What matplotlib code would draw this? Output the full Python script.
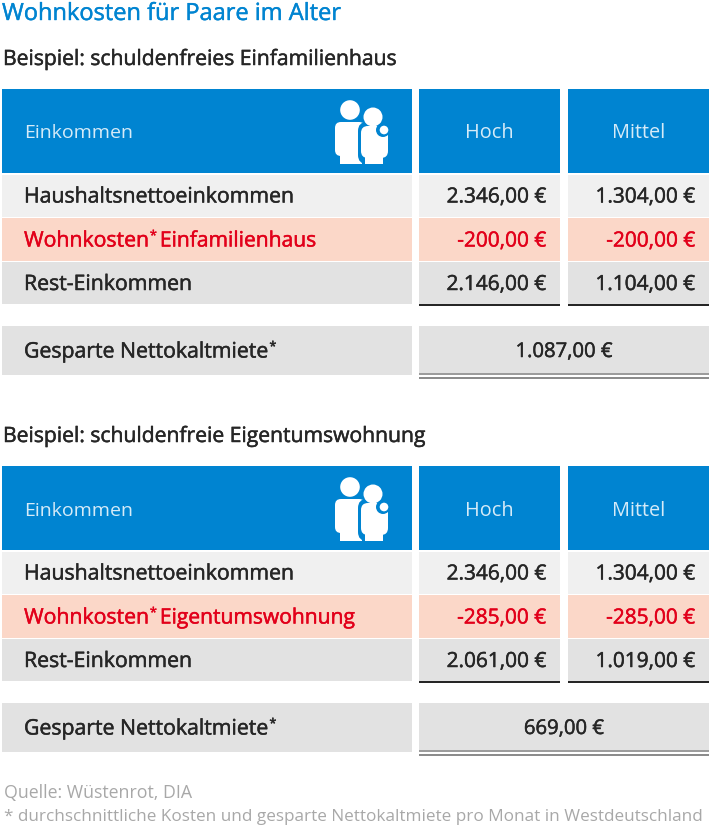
import matplotlib
matplotlib.use("Agg")
import matplotlib.pyplot as plt
from matplotlib.patches import Rectangle, Circle, FancyBboxPatch
from matplotlib import patheffects as pe

plt.rcParams['font.family'] = ['Open Sans', 'DejaVu Sans']

TITLE = "Wohnkosten für Paare im Alter"
SUBTITLES = ["Beispiel: schuldenfreies Einfamilienhaus", "Beispiel: schuldenfreie Eigentumswohnung"]
HEADERS = ["Einkommen", "Hoch", "Mittel"]
ROW_INCOME = "Haushaltsnettoeinkommen"
ROW_COST = ["Einfamilienhaus", "Eigentumswohnung"]
ROW_REST = "Rest-Einkommen"
ROW_SAVED = "Gesparte Nettokaltmiete"
INCOME = [["2.346,00 €", "1.304,00 €"], ["2.346,00 €", "1.304,00 €"]]
COST = [["-200,00 €", "-200,00 €"], ["-285,00 €", "-285,00 €"]]
REST = [["2.146,00 €", "1.104,00 €"], ["2.061,00 €", "1.019,00 €"]]
SAVED = ["1.087,00 €", "669,00 €"]
SOURCE = "Quelle: Wüstenrot, DIA"
NOTE = "* durchschnittliche Kosten und gesparte Nettokaltmiete pro Monat in Westdeutschland"

BLUE = "#0084d1"; DARK = "#262626"; RED = "#e2001a"; GREY = "#a8a8a8"
fig = plt.figure(figsize=(7.10, 8.38), dpi=100)
ax = fig.add_axes([0, 0, 1, 1]); ax.set_xlim(0, 710); ax.set_ylim(838, 0); ax.axis("off")

def box(x0, x1, y0, y1, c):
    ax.add_patch(Rectangle((x0, y0), x1 - x0, y1 - y0, fc=c, ec="none"))

def strong(x, y, s, color, size, ha="left"):
    t = ax.text(x, y, s, color=color, fontsize=size, va="center", ha=ha)
    t.set_path_effects([pe.withStroke(linewidth=0.35, foreground=color)])
    return t

def label_star(x, y, before, after, color, size):
    t = strong(x, y, before, color, size)
    bb = t.get_window_extent(fig.canvas.get_renderer())
    s = strong(bb.x1 + 0.5, y - 5, "*", color, size * 0.6)
    if after:
        sb = s.get_window_extent(fig.canvas.get_renderer())
        strong(sb.x1 + 3, y, after, color, size * 0.99)

def icon(dy):
    w = dict(fc="white", ec="none")
    ax.add_patch(Circle((350, 110 + dy), 9.8, **w))
    ax.add_patch(FancyBboxPatch((335, 122 + dy), 30, 34, boxstyle="round,pad=0,rounding_size=6", **w))
    ax.add_patch(Rectangle((340, 150 + dy), 22, 14, **w))
    ax.add_patch(FancyBboxPatch((358, 122 + dy), 33, 42, boxstyle="round,pad=0,rounding_size=9", fc=BLUE, ec="none"))
    ax.add_patch(Circle((373, 117 + dy), 9.5, **w))
    ax.add_patch(FancyBboxPatch((361, 126 + dy), 27, 32, boxstyle="round,pad=0,rounding_size=7", **w))
    ax.add_patch(Rectangle((365, 150 + dy), 18, 14, **w))
    ax.add_patch(Circle((383, 130 + dy), 7, fc=BLUE, ec="none"))
    ax.add_patch(Circle((384, 130 + dy), 4.3, **w))

X = [(2, 412), (419, 560), (568, 709)]
LS = 15.3
VS = 15.0
HS = 14.3
for i, dy in enumerate([0, 377]):
    for j, (a, b) in enumerate(X):
        box(a, b, 89 + dy, 173 + dy, BLUE)
        box(a, b, 175 + dy, 217 + dy, "#f0f0f0")
        box(a, b, 218 + dy, 261 + dy, "#fbd7c8")
        box(a, b, 262 + dy, 304 + dy, "#e2e2e2")
    icon(dy)
    ax.text(24, 133.5 + dy, HEADERS[0], color="#d6ebf8", fontsize=14.0, va="center")
    for j in (1, 2):
        ax.text(sum(X[j]) / 2, 133.5 + dy, HEADERS[j], color="#d6ebf8", fontsize=HS, va="center", ha="center")
    strong(24, 197 + dy, ROW_INCOME, DARK, LS)
    label_star(24, 241 + dy, "Wohnkosten", ROW_COST[i], RED, LS)
    strong(24, 284.5 + dy, ROW_REST, DARK, LS)
    for j in (0, 1):
        r = X[j + 1][1] - 14
        strong(r, 197 + dy, INCOME[i][j], DARK, VS, ha="right")
        strong(r, 241 + dy, COST[i][j], RED, VS, ha="right")
        strong(r, 284.5 + dy, REST[i][j], DARK, VS, ha="right")
        box(X[j + 1][0], X[j + 1][1], 304 + dy, 306 + dy, DARK)
    box(2, 412, 326 + dy, 375 + dy, "#e2e2e2")
    box(419, 709, 326 + dy, 373 + dy, "#e2e2e2")
    box(419, 709, 373 + dy, 375 + dy, "#9c9c9c")
    box(419, 709, 377 + dy, 379 + dy, "#8c8c8c")
    label_star(24, 352 + dy, ROW_SAVED, "", DARK, LS)
    strong(564, 352 + dy, SAVED[i], DARK, 14.6, ha="center")
    strong(3, [59.5, 436.5][i], SUBTITLES[i], DARK, 15.2)

t = ax.text(2, 14, TITLE, color=BLUE, fontsize=17, va="center")
t.set_path_effects([pe.withStroke(linewidth=0.3, foreground=BLUE)])
ax.text(4, 793, SOURCE, color=GREY, fontsize=12.8, va="center")
ax.text(4, 816.5, NOTE, color=GREY, fontsize=12.35, va="center")
fig.savefig("out.png", dpi=100)
